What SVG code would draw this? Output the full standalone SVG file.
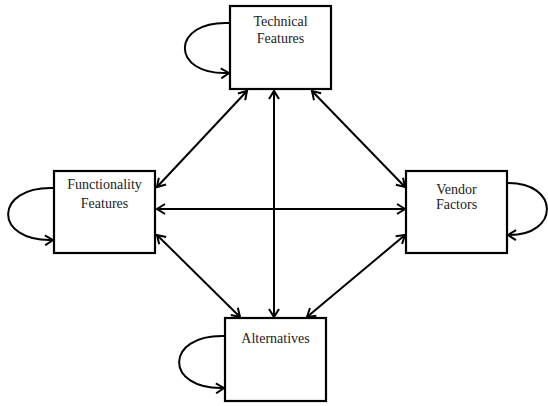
<svg xmlns="http://www.w3.org/2000/svg" width="548" height="406" viewBox="0 0 548 406">
<style>
.box{fill:#fff;stroke:#000;stroke-width:2.2}
.lbl{font-family:"Liberation Serif","Times New Roman",serif;font-size:14px;fill:#222;text-anchor:middle}
.c{fill:none;stroke:#000;stroke-width:2}
</style>
<defs>
<marker id="ah" viewBox="-10 -6 12 12" markerWidth="12" markerHeight="12" refX="0" refY="0" orient="auto-start-reverse" markerUnits="userSpaceOnUse">
<path d="M-8,-5 L0,0 L-8,5" fill="none" stroke="#000" stroke-width="2"/>
</marker>
</defs>
<rect width="548" height="406" fill="#fff"/>
<g id="connectors">
<line class="c" x1="247" y1="91" x2="157" y2="187" marker-start="url(#ah)" marker-end="url(#ah)"/>
<line class="c" x1="274" y1="91" x2="274" y2="317" marker-start="url(#ah)" marker-end="url(#ah)"/>
<line class="c" x1="312" y1="91" x2="405" y2="187" marker-start="url(#ah)" marker-end="url(#ah)"/>
<line class="c" x1="157" y1="209" x2="405" y2="209" marker-start="url(#ah)" marker-end="url(#ah)"/>
<line class="c" x1="157" y1="235" x2="240" y2="317" marker-start="url(#ah)" marker-end="url(#ah)"/>
<line class="c" x1="405" y1="235" x2="307" y2="317" marker-start="url(#ah)" marker-end="url(#ah)"/>
<path class="c" d="M230,23 C170,20 170,76 229,73" marker-end="url(#ah)"/>
<path class="c" d="M54,188 C-7,186 -7,242 53,240" marker-end="url(#ah)"/>
<path class="c" d="M507,183 C560,182 560,236 508,235" marker-end="url(#ah)"/>
<path class="c" d="M225,336 C164,334 164,390 224,388" marker-end="url(#ah)"/>
</g>
<g id="technical">
<rect class="box" x="230" y="6" width="101" height="83"/>
<text class="lbl" x="280.5" y="26">Technical</text>
<text class="lbl" x="280.5" y="43">Features</text>
</g>
<g id="functionality">
<rect class="box" x="54" y="171" width="101" height="82"/>
<text class="lbl" x="104.5" y="189">Functionality</text>
<text class="lbl" x="104.5" y="208">Features</text>
</g>
<g id="vendor">
<rect class="box" x="406" y="171" width="101" height="82"/>
<text class="lbl" x="456.5" y="194">Vendor</text>
<text class="lbl" x="456.5" y="209">Factors</text>
</g>
<g id="alternatives">
<rect class="box" x="225" y="318" width="101" height="83"/>
<text class="lbl" x="275.5" y="343">Alternatives</text>
</g>
</svg>
